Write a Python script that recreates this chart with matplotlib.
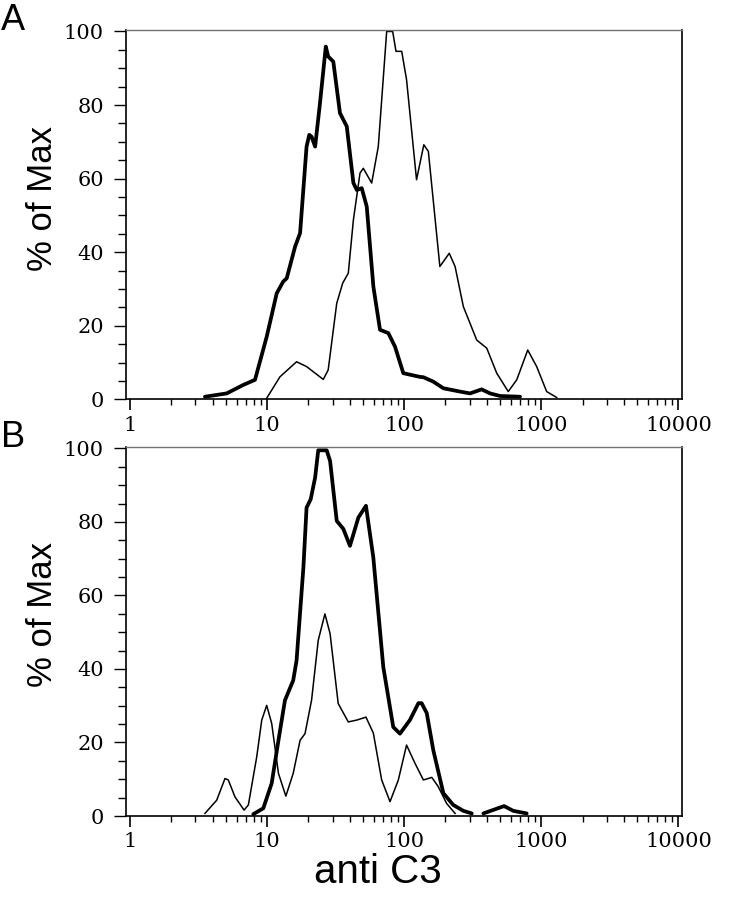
import numpy as np
import matplotlib
matplotlib.use("Agg")
import matplotlib.pyplot as plt
from matplotlib.ticker import LogLocator, FixedLocator, NullFormatter

# Panel A (log x axis)
a_thick_x = [3.52, 5.07, 6.70, 8.16, 9.93, 11.75, 13.1, 13.9, 16.0, 17.4, 19.4, 20.3, 21.1,
             22.4, 24.3, 26.8, 27.9, 30.4, 34.0, 38.1, 42.6, 45.1, 49.0, 53.3, 59.6, 66.6,
             76.6, 85.7, 98.5, 130, 138, 163, 193, 255, 302, 367, 423, 500, 699]
a_thick_y = [0.7, 1.6, 3.9, 5.3, 17.0, 28.8, 32.0, 32.9, 41.5, 45.2, 68.7, 71.9, 71.4,
             68.7, 80.5, 95.9, 93.2, 91.8, 77.8, 74.2, 58.8, 56.9, 57.4, 52.4, 30.6, 18.9,
             18.0, 14.3, 7.1, 6.1, 6.0, 4.8, 3.0, 2.1, 1.6, 2.7, 1.6, 0.9, 0.7]

a_thin_x = [9.93, 12.4, 16.4, 19.4, 25.7, 27.9, 32.2, 35.6, 39.1, 42.6, 47.6, 50.3, 57.9,
            64.7, 74.5, 82.4, 87.1, 95.9, 104, 123, 139, 150, 182, 213, 235, 270, 338,
            400, 473, 574, 662, 796, 925, 1094, 1294]
a_thin_y = [0.3, 6.1, 10.2, 8.9, 5.4, 8.0, 26.1, 31.6, 34.3, 48.8, 61.5, 62.8, 58.8,
            68.7, 100, 100, 94.6, 94.6, 86.9, 59.7, 69.2, 67.4, 36.1, 39.7, 36.1, 25.2, 16.1,
            13.9, 7.1, 2.1, 5.3, 13.4, 8.9, 2.1, 0.5]

# Panel B
b_thick_x = [7.93, 9.38, 10.8, 12.1, 13.5, 15.5, 16.4, 18.4, 19.4, 20.8, 22.4, 23.6, 27.2,
             28.8, 32.2, 36.0, 40.2, 46.3, 52.6, 59.5, 70.4, 83.2, 93.1, 110, 127, 134,
             146, 163, 193, 228, 270, 311, 345, 378, 535, 625, 782]
b_thick_y = [0.5, 2.1, 8.9, 20.6, 31.5, 36.9, 42.3, 67.7, 83.9, 86.2, 92.1, 99.5, 99.5,
             96.6, 80.3, 78.1, 73.5, 81.2, 84.4, 70.4, 40.5, 24.2, 22.4, 26.1, 30.7, 30.7,
             28.0, 17.9, 6.2, 3.0, 1.4, 0.7, np.nan, 0.7, 2.7, 1.4, 0.7]

b_thin_x = [3.52, 4.29, 4.93, 5.21, 5.83, 6.79, 7.30, 8.40, 9.14, 9.93, 10.8, 12.1, 13.7,
            15.5, 17.4, 18.9, 21.1, 23.6, 26.4, 28.8, 33.0, 39.1, 45.1, 52.6, 59.5, 68.5,
            78.8, 90.6, 104, 120, 138, 159, 177, 204, 235]
b_thin_y = [0.7, 4.3, 10.2, 9.8, 5.2, 1.6, 3.0, 16.1, 26.1, 30.1, 25.2, 11.6, 5.4,
            11.6, 20.6, 22.4, 31.5, 47.8, 55.0, 49.6, 30.6, 25.6, 26.1, 26.9, 22.6, 9.8,
            3.9, 9.8, 19.3, 14.3, 9.8, 10.5, 8.0, 3.4, 0.7]

xticks = [1, 10, 100, 1000, 10000]
xticklabels = ["1", "10", "100", "1000", "10000"]
yticks = [0, 20, 40, 60, 80, 100]

fig = plt.figure(figsize=(7.34, 9), dpi=100)
axA = fig.add_axes([126 / 734, 1 - 399.3 / 900, 556 / 734, 369.3 / 900])
axB = fig.add_axes([126 / 734, 1 - 816 / 900, 556 / 734, 369 / 900])

panels = [(axA, a_thick_x, a_thick_y, a_thin_x, a_thin_y, "A", 1 - 3 / 900),
          (axB, b_thick_x, b_thick_y, b_thin_x, b_thin_y, "B", 1 - 420 / 900)]

for ax, tx, ty, nx, ny, letter, ly in panels:
    ax.plot(nx, ny, color="black", lw=1.1, solid_joinstyle="round")
    ax.plot(tx, ty, color="black", lw=2.7, solid_capstyle="round", solid_joinstyle="round")
    ax.set_xscale("log")
    ax.set_xlim(0.935, 10620)
    ax.set_ylim(0, 100.4)

    ax.xaxis.set_major_locator(FixedLocator(xticks))
    ax.set_xticklabels(xticklabels)
    ax.xaxis.set_minor_locator(LogLocator(base=10, subs=np.arange(2, 10), numticks=20))
    ax.xaxis.set_minor_formatter(NullFormatter())
    ax.set_yticks(yticks)
    ax.set_yticks(np.arange(0, 101, 5), minor=True)

    ax.tick_params(axis="x", which="major", direction="out", length=7.7, width=1.2, pad=4)
    ax.tick_params(axis="x", which="minor", direction="out", length=4, width=1)
    ax.tick_params(axis="y", which="major", direction="out", length=9, width=1, pad=7)
    ax.tick_params(axis="y", which="minor", direction="out", length=5.5, width=1)
    for lab in ax.get_xticklabels() + ax.get_yticklabels():
        lab.set_family("DejaVu Serif")
        lab.set_fontsize(15)

    for side in ["left", "bottom", "right"]:
        ax.spines[side].set_color("black")
        ax.spines[side].set_linewidth(1.2)
    ax.spines["top"].set_color("0.45")
    ax.spines["top"].set_linewidth(1.0)

    ax.text(-0.151, 0.545, "% of Max", transform=ax.transAxes, rotation=90,
            ha="center", va="center", fontsize=25, family="Liberation Sans")
    fig.text(1 / 734, ly, letter, ha="left", va="top", fontsize=26, family="Liberation Sans")

fig.text(378 / 734, 1 - 872 / 900, "anti C3", ha="center", va="center",
         fontsize=29, family="Liberation Sans")

fig.savefig("out.png", dpi=100)
